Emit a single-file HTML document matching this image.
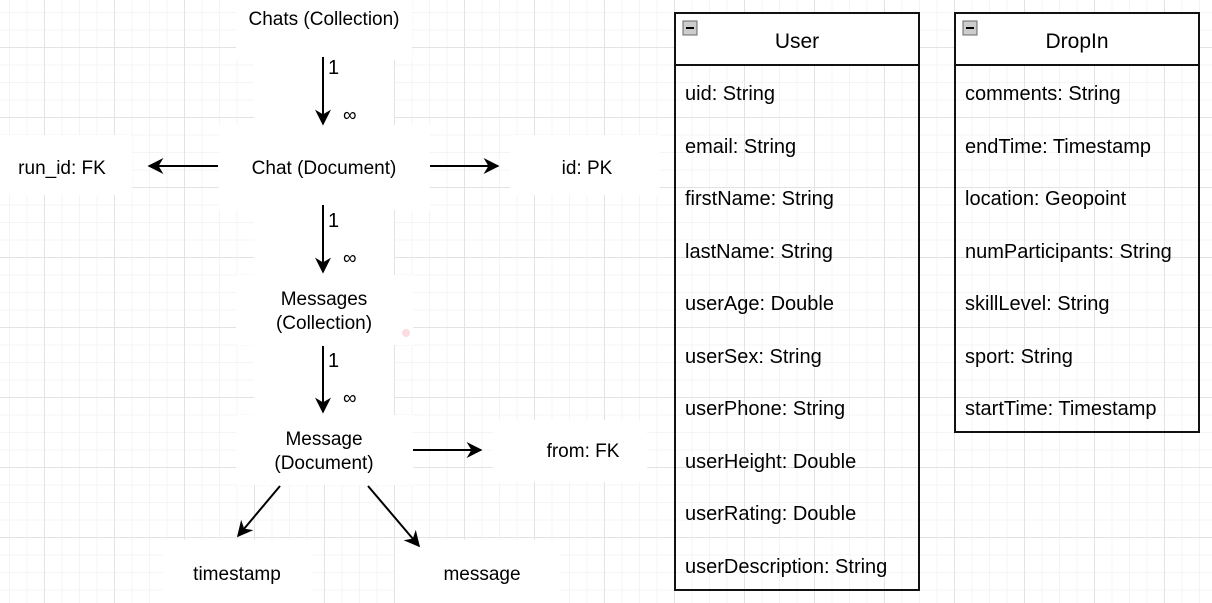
<!DOCTYPE html>
<html><head><meta charset="utf-8"><style>
html,body{margin:0;padding:0;}
body{width:1212px;height:603px;overflow:hidden;background:#fff;
background-image:
linear-gradient(to right,#e3e3e3 1px,transparent 1px),
linear-gradient(to bottom,#e3e3e3 1px,transparent 1px),
linear-gradient(to right,#f4f4f4 1px,transparent 1px),
linear-gradient(to bottom,#f4f4f4 1px,transparent 1px);
background-size:70px 70px,70px 70px,17.5px 17.5px,17.5px 17.5px;
background-position:44px 0,0 47px,9px 0,0 12px;}
svg{position:absolute;left:0;top:0;}
text{font-family:"Liberation Sans",Arial,sans-serif;fill:#000;}
</style></head><body>
<svg width="1212" height="603" viewBox="0 0 1212 603">
<defs>
<marker id="b" viewBox="0 0 10 10" markerWidth="16" markerHeight="16" refX="9" refY="5" orient="auto" markerUnits="userSpaceOnUse"><path d="M0,0 L10,5 L0,10 L3,5 z" fill="#000"/></marker></defs>
<g fill="#fff">
<rect x="236" y="0" width="176" height="60"/>
<rect x="254" y="60" width="140" height="70"/>
<rect x="219" y="125" width="211" height="85"/>
<rect x="0" y="135" width="132" height="60"/>
<rect x="510" y="135" width="150" height="60"/>
<rect x="254" y="205" width="140" height="70"/>
<rect x="236" y="275" width="177" height="70"/>
<rect x="254" y="345" width="140" height="70"/>
<rect x="236" y="415" width="177" height="70"/>
<rect x="493" y="420" width="154" height="62"/>
<rect x="163" y="540" width="150" height="63"/>
<rect x="395" y="540" width="165" height="63"/>
</g>
<circle cx="406" cy="333" r="4" fill="#f9dde0"/>
<g stroke="#000" stroke-width="2" fill="none">
<line x1="323" y1="57" x2="323" y2="124" marker-end="url(#b)"/>
<line x1="323" y1="205" x2="323" y2="272" marker-end="url(#b)"/>
<line x1="323" y1="346" x2="323" y2="412" marker-end="url(#b)"/>
<line x1="218" y1="166" x2="149" y2="166" marker-end="url(#b)"/>
<line x1="430" y1="166" x2="498" y2="166" marker-end="url(#b)"/>
<line x1="413" y1="450" x2="481" y2="450" marker-end="url(#b)"/>
<line x1="280" y1="486" x2="238" y2="536" marker-end="url(#b)"/>
<line x1="368" y1="486" x2="419" y2="546" marker-end="url(#b)"/>
</g>
<g font-size="19" text-anchor="middle">
<text x="324" y="25">Chats (Collection)</text>
<text x="324" y="174">Chat (Document)</text>
<text x="62" y="174">run_id: FK</text>
<text x="587" y="174">id: PK</text>
<text x="324" y="305">Messages</text>
<text x="324" y="329">(Collection)</text>
<text x="324" y="445">Message</text>
<text x="324" y="469">(Document)</text>
<text x="583" y="457">from: FK</text>
<text x="237" y="580">timestamp</text>
<text x="482" y="580">message</text>
</g>
<g font-size="20">
<text x="328" y="74">1</text><text x="328" y="227">1</text><text x="328" y="367">1</text>
</g>
<g font-size="19">
<text x="343" y="121">∞</text><text x="343" y="264">∞</text><text x="343" y="404">∞</text>
</g>
<!-- User -->
<rect x="675" y="13" width="244" height="52" fill="#fff"/>
<rect x="675" y="13" width="244" height="577" fill="none" stroke="#111" stroke-width="2"/>
<line x1="675" y1="65" x2="919" y2="65" stroke="#111" stroke-width="2"/>
<rect x="683" y="21" width="14" height="14" fill="#ccc" stroke="#666"/><line x1="686" y1="28" x2="694" y2="28" stroke="#000" stroke-width="2"/>
<text x="797" y="48" font-size="21" text-anchor="middle">User</text>
<g font-size="20">
<text x="685" y="100">uid: String</text>
<text x="685" y="153">email: String</text>
<text x="685" y="205">firstName: String</text>
<text x="685" y="258">lastName: String</text>
<text x="685" y="310">userAge: Double</text>
<text x="685" y="363">userSex: String</text>
<text x="685" y="415">userPhone: String</text>
<text x="685" y="468">userHeight: Double</text>
<text x="685" y="520">userRating: Double</text>
<text x="685" y="573">userDescription: String</text>
</g>
<!-- DropIn -->
<rect x="955" y="13" width="244" height="52" fill="#fff"/>
<rect x="955" y="13" width="244" height="419" fill="none" stroke="#111" stroke-width="2"/>
<line x1="955" y1="65" x2="1199" y2="65" stroke="#111" stroke-width="2"/>
<rect x="963" y="21" width="14" height="14" fill="#ccc" stroke="#666"/><line x1="966" y1="28" x2="974" y2="28" stroke="#000" stroke-width="2"/>
<text x="1077" y="48" font-size="21" text-anchor="middle">DropIn</text>
<g font-size="20">
<text x="965" y="100">comments: String</text>
<text x="965" y="153">endTime: Timestamp</text>
<text x="965" y="205">location: Geopoint</text>
<text x="965" y="258">numParticipants: String</text>
<text x="965" y="310">skillLevel: String</text>
<text x="965" y="363">sport: String</text>
<text x="965" y="415">startTime: Timestamp</text>
</g>
</svg>
</body></html>
